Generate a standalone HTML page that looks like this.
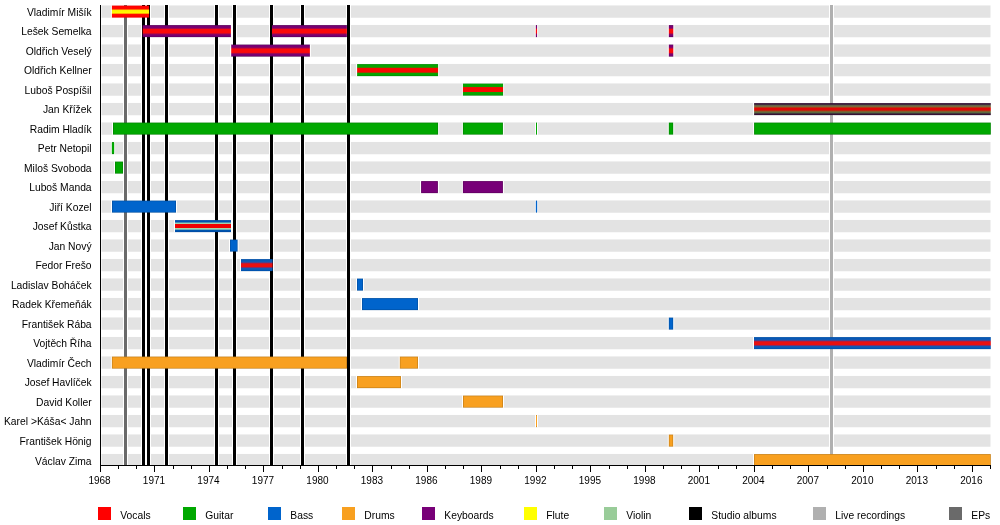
<!DOCTYPE html><html><head><meta charset="utf-8"><style>html,body{margin:0;padding:0;background:#fff;width:1000px;height:525px;overflow:hidden}svg{display:block;will-change:transform}text{font-family:"Liberation Sans",sans-serif;font-size:10.3px;fill:#000}</style></head><body>
<svg width="1000" height="525" viewBox="0 0 1000 525">
<defs><clipPath id="pa"><rect x="100" y="5" width="891" height="460"/></clipPath>
<linearGradient id="g_voc_flute" x1="0" y1="0" x2="0" y2="1"><stop offset="0" stop-color="#e80000"/><stop offset="0.06" stop-color="#ff0000"/><stop offset="0.29" stop-color="#ff0a00"/><stop offset="0.37" stop-color="#ffee00"/><stop offset="0.63" stop-color="#ffff00"/><stop offset="0.71" stop-color="#ff1000"/><stop offset="0.94" stop-color="#ff0000"/><stop offset="1" stop-color="#e80000"/></linearGradient>
<linearGradient id="g_key_voc" x1="0" y1="0" x2="0" y2="1"><stop offset="0" stop-color="#4c004c"/><stop offset="0.07" stop-color="#740072"/><stop offset="0.21" stop-color="#7c0070"/><stop offset="0.29" stop-color="#a80848"/><stop offset="0.37" stop-color="#fa0a0a"/><stop offset="0.65" stop-color="#fa0a0a"/><stop offset="0.73" stop-color="#a80848"/><stop offset="0.81" stop-color="#7c0070"/><stop offset="0.93" stop-color="#740072"/><stop offset="1" stop-color="#4c004c"/></linearGradient>
<linearGradient id="g_gtr_voc" x1="0" y1="0" x2="0" y2="1"><stop offset="0" stop-color="#007800"/><stop offset="0.07" stop-color="#00a600"/><stop offset="0.27" stop-color="#10a000"/><stop offset="0.33" stop-color="#f80800"/><stop offset="0.68" stop-color="#f80800"/><stop offset="0.74" stop-color="#10a000"/><stop offset="0.93" stop-color="#00a600"/><stop offset="1" stop-color="#007800"/></linearGradient>
<linearGradient id="g_key_gtr_voc" x1="0" y1="0" x2="0" y2="1"><stop offset="0" stop-color="#300a30"/><stop offset="0.1" stop-color="#3a1a3a"/><stop offset="0.18" stop-color="#606048"/><stop offset="0.28" stop-color="#7a6a40"/><stop offset="0.36" stop-color="#b04018"/><stop offset="0.42" stop-color="#e00808"/><stop offset="0.58" stop-color="#e00808"/><stop offset="0.65" stop-color="#a04018"/><stop offset="0.74" stop-color="#6a7440"/><stop offset="0.82" stop-color="#506040"/><stop offset="0.9" stop-color="#381838"/><stop offset="1" stop-color="#300a30"/></linearGradient>
<linearGradient id="g_bass_vln_voc" x1="0" y1="0" x2="0" y2="1"><stop offset="0" stop-color="#00409a"/><stop offset="0.06" stop-color="#0050aa"/><stop offset="0.17" stop-color="#0058b0"/><stop offset="0.23" stop-color="#90c8b8"/><stop offset="0.3" stop-color="#a8d4a8"/><stop offset="0.36" stop-color="#f00000"/><stop offset="0.64" stop-color="#f00000"/><stop offset="0.7" stop-color="#a8d4a8"/><stop offset="0.77" stop-color="#90c8b8"/><stop offset="0.83" stop-color="#0058b0"/><stop offset="0.94" stop-color="#0050aa"/><stop offset="1" stop-color="#00409a"/></linearGradient>
<linearGradient id="g_bass_voc" x1="0" y1="0" x2="0" y2="1"><stop offset="0" stop-color="#00489a"/><stop offset="0.07" stop-color="#0058b8"/><stop offset="0.25" stop-color="#1858b0"/><stop offset="0.34" stop-color="#a02050"/><stop offset="0.4" stop-color="#e81010"/><stop offset="0.62" stop-color="#e81010"/><stop offset="0.68" stop-color="#a02050"/><stop offset="0.76" stop-color="#1858b0"/><stop offset="0.93" stop-color="#0058b8"/><stop offset="1" stop-color="#00489a"/></linearGradient>
</defs>
<g clip-path="url(#pa)">
<rect x="101.5" y="5.45" width="889" height="12.3" fill="#e3e3e3"/>
<rect x="101.5" y="24.95" width="889" height="12.3" fill="#e3e3e3"/>
<rect x="101.5" y="44.45" width="889" height="12.3" fill="#e3e3e3"/>
<rect x="101.5" y="63.95" width="889" height="12.3" fill="#e3e3e3"/>
<rect x="101.5" y="83.45" width="889" height="12.3" fill="#e3e3e3"/>
<rect x="101.5" y="102.95" width="889" height="12.3" fill="#e3e3e3"/>
<rect x="101.5" y="122.45" width="889" height="12.3" fill="#e3e3e3"/>
<rect x="101.5" y="141.95" width="889" height="12.3" fill="#e3e3e3"/>
<rect x="101.5" y="161.45" width="889" height="12.3" fill="#e3e3e3"/>
<rect x="101.5" y="180.95" width="889" height="12.3" fill="#e3e3e3"/>
<rect x="101.5" y="200.45" width="889" height="12.3" fill="#e3e3e3"/>
<rect x="101.5" y="219.95" width="889" height="12.3" fill="#e3e3e3"/>
<rect x="101.5" y="239.45" width="889" height="12.3" fill="#e3e3e3"/>
<rect x="101.5" y="258.95" width="889" height="12.3" fill="#e3e3e3"/>
<rect x="101.5" y="278.45" width="889" height="12.3" fill="#e3e3e3"/>
<rect x="101.5" y="297.95" width="889" height="12.3" fill="#e3e3e3"/>
<rect x="101.5" y="317.45" width="889" height="12.3" fill="#e3e3e3"/>
<rect x="101.5" y="336.95" width="889" height="12.3" fill="#e3e3e3"/>
<rect x="101.5" y="356.45" width="889" height="12.3" fill="#e3e3e3"/>
<rect x="101.5" y="375.95" width="889" height="12.3" fill="#e3e3e3"/>
<rect x="101.5" y="395.45" width="889" height="12.3" fill="#e3e3e3"/>
<rect x="101.5" y="414.95" width="889" height="12.3" fill="#e3e3e3"/>
<rect x="101.5" y="434.45" width="889" height="12.3" fill="#e3e3e3"/>
<rect x="101.5" y="453.95" width="889" height="12.3" fill="#e3e3e3"/>
<rect x="110.90" y="5.45" width="39.20" height="12.3" fill="#fff"/>
<rect x="141.70" y="24.95" width="90.20" height="12.3" fill="#fff"/>
<rect x="271.00" y="24.95" width="76.90" height="12.3" fill="#fff"/>
<rect x="534.80" y="24.95" width="3.30" height="12.3" fill="#fff"/>
<rect x="667.80" y="24.95" width="6.50" height="12.3" fill="#fff"/>
<rect x="230.20" y="44.45" width="80.70" height="12.3" fill="#fff"/>
<rect x="667.80" y="44.45" width="6.50" height="12.3" fill="#fff"/>
<rect x="356.10" y="63.95" width="83.00" height="12.3" fill="#fff"/>
<rect x="461.90" y="83.45" width="42.20" height="12.3" fill="#fff"/>
<rect x="753.10" y="102.95" width="238.70" height="12.3" fill="#fff"/>
<rect x="112.00" y="122.45" width="327.10" height="12.3" fill="#fff"/>
<rect x="461.90" y="122.45" width="42.00" height="12.3" fill="#fff"/>
<rect x="535.00" y="122.45" width="3.00" height="12.3" fill="#fff"/>
<rect x="667.80" y="122.45" width="6.40" height="12.3" fill="#fff"/>
<rect x="753.10" y="122.45" width="238.70" height="12.3" fill="#fff"/>
<rect x="110.90" y="141.95" width="4.20" height="12.3" fill="#fff"/>
<rect x="114.00" y="161.45" width="10.00" height="12.3" fill="#fff"/>
<rect x="420.10" y="180.95" width="18.80" height="12.3" fill="#fff"/>
<rect x="461.90" y="180.95" width="42.00" height="12.3" fill="#fff"/>
<rect x="111.00" y="200.45" width="66.00" height="12.3" fill="#fff"/>
<rect x="534.90" y="200.45" width="3.20" height="12.3" fill="#fff"/>
<rect x="174.00" y="219.95" width="58.00" height="12.3" fill="#fff"/>
<rect x="229.00" y="239.45" width="9.60" height="12.3" fill="#fff"/>
<rect x="240.00" y="258.95" width="33.60" height="12.3" fill="#fff"/>
<rect x="356.00" y="278.45" width="8.00" height="12.3" fill="#fff"/>
<rect x="361.00" y="297.95" width="58.00" height="12.3" fill="#fff"/>
<rect x="667.80" y="317.45" width="6.40" height="12.3" fill="#fff"/>
<rect x="753.00" y="336.95" width="238.80" height="12.3" fill="#fff"/>
<rect x="110.90" y="356.45" width="237.10" height="12.3" fill="#fff"/>
<rect x="398.80" y="356.45" width="20.20" height="12.3" fill="#fff"/>
<rect x="356.00" y="375.95" width="46.00" height="12.3" fill="#fff"/>
<rect x="462.00" y="395.45" width="42.00" height="12.3" fill="#fff"/>
<rect x="535.00" y="414.95" width="3.00" height="12.3" fill="#fff"/>
<rect x="667.80" y="434.45" width="6.40" height="12.3" fill="#fff"/>
<rect x="753.00" y="453.95" width="238.80" height="12.3" fill="#fff"/>
<rect x="123" y="5" width="5" height="460" fill="#fff"/>
<rect x="124" y="5" width="3" height="460" fill="#6a6a6a"/>
<rect x="141" y="5" width="5" height="460" fill="#fff"/>
<rect x="142" y="5" width="3" height="460" fill="#000"/>
<rect x="146" y="5" width="5" height="460" fill="#fff"/>
<rect x="147" y="5" width="3" height="460" fill="#000"/>
<rect x="164" y="5" width="5" height="460" fill="#fff"/>
<rect x="165" y="5" width="3" height="460" fill="#000"/>
<rect x="214" y="5" width="5" height="460" fill="#fff"/>
<rect x="215" y="5" width="3" height="460" fill="#000"/>
<rect x="232" y="5" width="5" height="460" fill="#fff"/>
<rect x="233" y="5" width="3" height="460" fill="#000"/>
<rect x="269" y="5" width="5" height="460" fill="#fff"/>
<rect x="270" y="5" width="3" height="460" fill="#000"/>
<rect x="300" y="5" width="5" height="460" fill="#fff"/>
<rect x="301" y="5" width="3" height="460" fill="#000"/>
<rect x="346" y="5" width="5" height="460" fill="#fff"/>
<rect x="347" y="5" width="3" height="460" fill="#000"/>
<rect x="829" y="5" width="5" height="460" fill="#fff"/>
<rect x="830" y="5" width="3" height="460" fill="#b0b0b0"/>
<rect x="111.90" y="5.60" width="37.20" height="12.00" fill="url(#g_voc_flute)"/>
<rect x="142.70" y="25.10" width="88.20" height="12.00" fill="url(#g_key_voc)"/>
<rect x="272.00" y="25.10" width="74.90" height="12.00" fill="url(#g_key_voc)"/>
<rect x="535.80" y="25.10" width="1.30" height="12.00" fill="url(#g_key_voc)"/>
<rect x="668.80" y="25.10" width="4.50" height="12.00" fill="url(#g_key_voc)"/>
<rect x="231.20" y="44.60" width="78.70" height="12.00" fill="url(#g_key_voc)"/>
<rect x="668.80" y="44.60" width="4.50" height="12.00" fill="url(#g_key_voc)"/>
<rect x="357.10" y="64.10" width="81.00" height="12.00" fill="url(#g_gtr_voc)"/>
<rect x="462.90" y="83.60" width="40.20" height="12.00" fill="url(#g_gtr_voc)"/>
<rect x="754.10" y="103.10" width="236.70" height="12.00" fill="url(#g_key_gtr_voc)"/>
<rect x="113.00" y="122.60" width="325.10" height="12.00" fill="#008600"/>
<rect x="113.70" y="123.30" width="323.70" height="10.60" fill="#00a800"/>
<rect x="462.90" y="122.60" width="40.00" height="12.00" fill="#008600"/>
<rect x="463.60" y="123.30" width="38.60" height="10.60" fill="#00a800"/>
<rect x="536.00" y="122.60" width="1.00" height="12.00" fill="#008600"/>
<rect x="536.00" y="123.30" width="1.00" height="10.60" fill="#00a800"/>
<rect x="668.80" y="122.60" width="4.40" height="12.00" fill="#008600"/>
<rect x="669.50" y="123.30" width="3.00" height="10.60" fill="#00a800"/>
<rect x="754.10" y="122.60" width="236.70" height="12.00" fill="#008600"/>
<rect x="754.80" y="123.30" width="235.30" height="10.60" fill="#00a800"/>
<rect x="111.90" y="142.10" width="2.20" height="12.00" fill="#008600"/>
<rect x="111.90" y="142.80" width="2.20" height="10.60" fill="#00a800"/>
<rect x="115.00" y="161.60" width="8.00" height="12.00" fill="#008600"/>
<rect x="115.70" y="162.30" width="6.60" height="10.60" fill="#00a800"/>
<rect x="421.10" y="181.10" width="16.80" height="12.00" fill="#600060"/>
<rect x="421.80" y="181.80" width="15.40" height="10.60" fill="#780078"/>
<rect x="462.90" y="181.10" width="40.00" height="12.00" fill="#600060"/>
<rect x="463.60" y="181.80" width="38.60" height="10.60" fill="#780078"/>
<rect x="112.00" y="200.60" width="64.00" height="12.00" fill="#0050a3"/>
<rect x="112.70" y="201.30" width="62.60" height="10.60" fill="#0064cc"/>
<rect x="535.90" y="200.60" width="1.20" height="12.00" fill="#0050a3"/>
<rect x="535.90" y="201.30" width="1.20" height="10.60" fill="#0064cc"/>
<rect x="175.00" y="220.10" width="56.00" height="12.00" fill="url(#g_bass_vln_voc)"/>
<rect x="230.00" y="239.60" width="7.60" height="12.00" fill="#0050a3"/>
<rect x="230.70" y="240.30" width="6.20" height="10.60" fill="#0064cc"/>
<rect x="241.00" y="259.10" width="31.60" height="12.00" fill="url(#g_bass_voc)"/>
<rect x="357.00" y="278.60" width="6.00" height="12.00" fill="#0050a3"/>
<rect x="357.70" y="279.30" width="4.60" height="10.60" fill="#0064cc"/>
<rect x="362.00" y="298.10" width="56.00" height="12.00" fill="#0050a3"/>
<rect x="362.70" y="298.80" width="54.60" height="10.60" fill="#0064cc"/>
<rect x="668.80" y="317.60" width="4.40" height="12.00" fill="#0050a3"/>
<rect x="669.50" y="318.30" width="3.00" height="10.60" fill="#0064cc"/>
<rect x="754.00" y="337.10" width="236.80" height="12.00" fill="url(#g_bass_voc)"/>
<rect x="111.90" y="356.60" width="235.10" height="12.00" fill="#c68019"/>
<rect x="112.60" y="357.30" width="233.70" height="10.60" fill="#f8a020"/>
<rect x="399.80" y="356.60" width="18.20" height="12.00" fill="#c68019"/>
<rect x="400.50" y="357.30" width="16.80" height="10.60" fill="#f8a020"/>
<rect x="357.00" y="376.10" width="44.00" height="12.00" fill="#c68019"/>
<rect x="357.70" y="376.80" width="42.60" height="10.60" fill="#f8a020"/>
<rect x="463.00" y="395.60" width="40.00" height="12.00" fill="#c68019"/>
<rect x="463.70" y="396.30" width="38.60" height="10.60" fill="#f8a020"/>
<rect x="536.00" y="415.10" width="1.00" height="12.00" fill="#c68019"/>
<rect x="536.00" y="415.80" width="1.00" height="10.60" fill="#f8a020"/>
<rect x="668.80" y="434.60" width="4.40" height="12.00" fill="#c68019"/>
<rect x="669.50" y="435.30" width="3.00" height="10.60" fill="#f8a020"/>
<rect x="754.00" y="454.10" width="236.80" height="12.00" fill="#c68019"/>
<rect x="754.70" y="454.80" width="235.40" height="10.60" fill="#f8a020"/>
</g>
<rect x="100" y="5" width="1" height="461" fill="#000"/>
<rect x="100" y="465" width="891" height="1" fill="#000"/>
<rect x="100" y="465" width="1" height="7" fill="#000"/>
<text x="99.50" y="483.9" text-anchor="middle" style="font-size:10px">1968</text>
<rect x="118" y="465" width="1" height="4" fill="#000"/>
<rect x="136" y="465" width="1" height="4" fill="#000"/>
<rect x="154" y="465" width="1" height="7" fill="#000"/>
<text x="153.99" y="483.9" text-anchor="middle" style="font-size:10px">1971</text>
<rect x="173" y="465" width="1" height="4" fill="#000"/>
<rect x="191" y="465" width="1" height="4" fill="#000"/>
<rect x="209" y="465" width="1" height="7" fill="#000"/>
<text x="208.48" y="483.9" text-anchor="middle" style="font-size:10px">1974</text>
<rect x="227" y="465" width="1" height="4" fill="#000"/>
<rect x="245" y="465" width="1" height="4" fill="#000"/>
<rect x="263" y="465" width="1" height="7" fill="#000"/>
<text x="262.97" y="483.9" text-anchor="middle" style="font-size:10px">1977</text>
<rect x="282" y="465" width="1" height="4" fill="#000"/>
<rect x="300" y="465" width="1" height="4" fill="#000"/>
<rect x="318" y="465" width="1" height="7" fill="#000"/>
<text x="317.46" y="483.9" text-anchor="middle" style="font-size:10px">1980</text>
<rect x="336" y="465" width="1" height="4" fill="#000"/>
<rect x="354" y="465" width="1" height="4" fill="#000"/>
<rect x="372" y="465" width="1" height="7" fill="#000"/>
<text x="371.95" y="483.9" text-anchor="middle" style="font-size:10px">1983</text>
<rect x="391" y="465" width="1" height="4" fill="#000"/>
<rect x="409" y="465" width="1" height="4" fill="#000"/>
<rect x="427" y="465" width="1" height="7" fill="#000"/>
<text x="426.44" y="483.9" text-anchor="middle" style="font-size:10px">1986</text>
<rect x="445" y="465" width="1" height="4" fill="#000"/>
<rect x="463" y="465" width="1" height="4" fill="#000"/>
<rect x="481" y="465" width="1" height="7" fill="#000"/>
<text x="480.93" y="483.9" text-anchor="middle" style="font-size:10px">1989</text>
<rect x="500" y="465" width="1" height="4" fill="#000"/>
<rect x="518" y="465" width="1" height="4" fill="#000"/>
<rect x="536" y="465" width="1" height="7" fill="#000"/>
<text x="535.42" y="483.9" text-anchor="middle" style="font-size:10px">1992</text>
<rect x="554" y="465" width="1" height="4" fill="#000"/>
<rect x="572" y="465" width="1" height="4" fill="#000"/>
<rect x="590" y="465" width="1" height="7" fill="#000"/>
<text x="589.91" y="483.9" text-anchor="middle" style="font-size:10px">1995</text>
<rect x="609" y="465" width="1" height="4" fill="#000"/>
<rect x="627" y="465" width="1" height="4" fill="#000"/>
<rect x="645" y="465" width="1" height="7" fill="#000"/>
<text x="644.40" y="483.9" text-anchor="middle" style="font-size:10px">1998</text>
<rect x="663" y="465" width="1" height="4" fill="#000"/>
<rect x="681" y="465" width="1" height="4" fill="#000"/>
<rect x="699" y="465" width="1" height="7" fill="#000"/>
<text x="698.89" y="483.9" text-anchor="middle" style="font-size:10px">2001</text>
<rect x="718" y="465" width="1" height="4" fill="#000"/>
<rect x="736" y="465" width="1" height="4" fill="#000"/>
<rect x="754" y="465" width="1" height="7" fill="#000"/>
<text x="753.38" y="483.9" text-anchor="middle" style="font-size:10px">2004</text>
<rect x="772" y="465" width="1" height="4" fill="#000"/>
<rect x="790" y="465" width="1" height="4" fill="#000"/>
<rect x="808" y="465" width="1" height="7" fill="#000"/>
<text x="807.87" y="483.9" text-anchor="middle" style="font-size:10px">2007</text>
<rect x="827" y="465" width="1" height="4" fill="#000"/>
<rect x="845" y="465" width="1" height="4" fill="#000"/>
<rect x="863" y="465" width="1" height="7" fill="#000"/>
<text x="862.36" y="483.9" text-anchor="middle" style="font-size:10px">2010</text>
<rect x="881" y="465" width="1" height="4" fill="#000"/>
<rect x="899" y="465" width="1" height="4" fill="#000"/>
<rect x="917" y="465" width="1" height="7" fill="#000"/>
<text x="916.85" y="483.9" text-anchor="middle" style="font-size:10px">2013</text>
<rect x="936" y="465" width="1" height="4" fill="#000"/>
<rect x="954" y="465" width="1" height="4" fill="#000"/>
<rect x="972" y="465" width="1" height="7" fill="#000"/>
<text x="971.34" y="483.9" text-anchor="middle" style="font-size:10px">2016</text>
<rect x="990" y="465" width="1" height="4" fill="#000"/>
<text x="91.6" y="15.55" text-anchor="end">Vladimír Mišík</text>
<text x="91.6" y="35.07" text-anchor="end">Lešek Semelka</text>
<text x="91.6" y="54.59" text-anchor="end">Oldřich Veselý</text>
<text x="91.6" y="74.11" text-anchor="end">Oldřich Kellner</text>
<text x="91.6" y="93.63" text-anchor="end">Luboš Pospíšil</text>
<text x="91.6" y="113.15" text-anchor="end">Jan Křížek</text>
<text x="91.6" y="132.67" text-anchor="end">Radim Hladík</text>
<text x="91.6" y="152.19" text-anchor="end">Petr Netopil</text>
<text x="91.6" y="171.71" text-anchor="end">Miloš Svoboda</text>
<text x="91.6" y="191.23" text-anchor="end">Luboš Manda</text>
<text x="91.6" y="210.75" text-anchor="end">Jiří Kozel</text>
<text x="91.6" y="230.27" text-anchor="end">Josef Kůstka</text>
<text x="91.6" y="249.79" text-anchor="end">Jan Nový</text>
<text x="91.6" y="269.31" text-anchor="end">Fedor Frešo</text>
<text x="91.6" y="288.83" text-anchor="end">Ladislav Boháček</text>
<text x="91.6" y="308.35" text-anchor="end">Radek Křemeňák</text>
<text x="91.6" y="327.87" text-anchor="end">František Rába</text>
<text x="91.6" y="347.39" text-anchor="end">Vojtěch Říha</text>
<text x="91.6" y="366.91" text-anchor="end">Vladimír Čech</text>
<text x="91.6" y="386.43" text-anchor="end">Josef Havlíček</text>
<text x="91.6" y="405.95" text-anchor="end">David Koller</text>
<text x="91.6" y="425.47" text-anchor="end">Karel &gt;Káša&lt; Jahn</text>
<text x="91.6" y="444.99" text-anchor="end">František Hönig</text>
<text x="91.6" y="464.51" text-anchor="end">Václav Zima</text>
<rect x="98" y="507" width="13" height="13" fill="#ff0000"/>
<text x="120.3" y="518.5">Vocals</text>
<rect x="183" y="507" width="13" height="13" fill="#00a800"/>
<text x="205.3" y="518.5">Guitar</text>
<rect x="268" y="507" width="13" height="13" fill="#0064cc"/>
<text x="290.3" y="518.5">Bass</text>
<rect x="342" y="507" width="13" height="13" fill="#f8a020"/>
<text x="364.3" y="518.5">Drums</text>
<rect x="422" y="507" width="13" height="13" fill="#780078"/>
<text x="444.3" y="518.5">Keyboards</text>
<rect x="524" y="507" width="13" height="13" fill="#ffff00"/>
<text x="546.3" y="518.5">Flute</text>
<rect x="604" y="507" width="13" height="13" fill="#99cc99"/>
<text x="626.3" y="518.5">Violin</text>
<rect x="689" y="507" width="13" height="13" fill="#000000"/>
<text x="711.3" y="518.5">Studio albums</text>
<rect x="813" y="507" width="13" height="13" fill="#b0b0b0"/>
<text x="835.3" y="518.5">Live recordings</text>
<rect x="949" y="507" width="13" height="13" fill="#6a6a6a"/>
<text x="971.3" y="518.5">EPs</text>
</svg></body></html>
